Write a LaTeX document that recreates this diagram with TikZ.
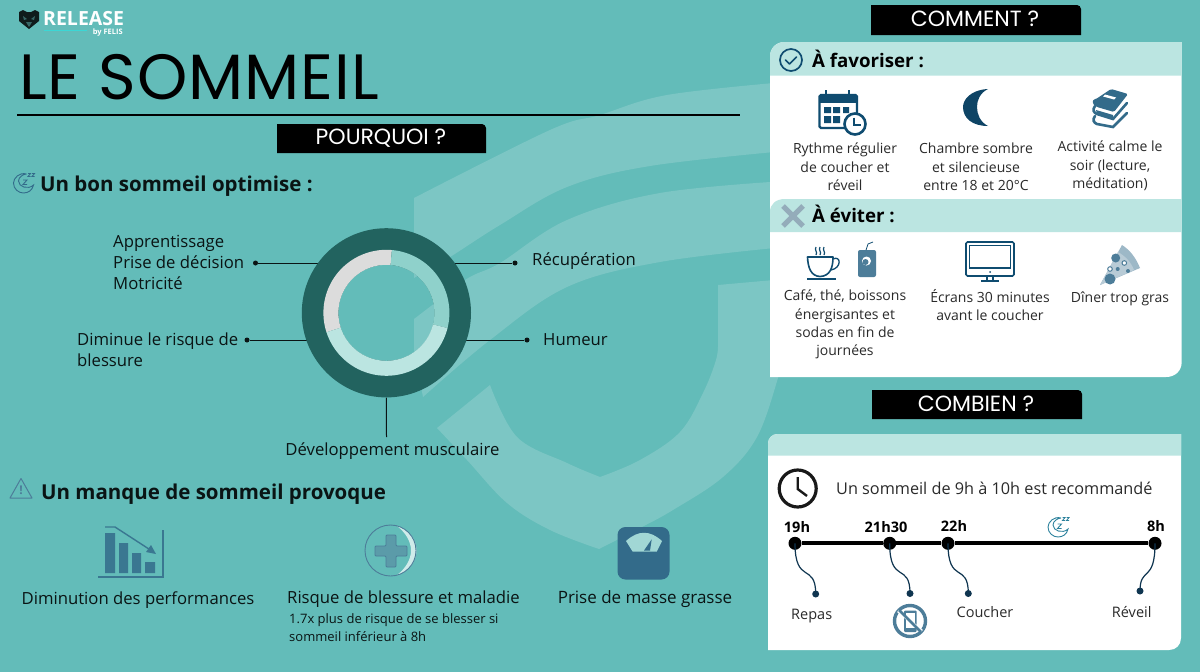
\documentclass[tikz,border=0pt]{standalone}
\usepackage{fontspec}
\setmainfont{Open Sans}
\newfontfamily\titlef{Poppins}
\definecolor{bgc}{HTML}{63BCB9}
\definecolor{wmc}{HTML}{7CC6C4}
\definecolor{ringd}{HTML}{22635F}
\definecolor{ringg}{HTML}{DCDCDC}
\definecolor{ringm}{HTML}{8FD1CB}
\definecolor{hdrc}{HTML}{BBE5E1}
\definecolor{navy}{HTML}{0F4C70}
\definecolor{icoc}{HTML}{336B8A}
\definecolor{icol}{HTML}{4D7D99}
\definecolor{inkc}{HTML}{0A1414}
\definecolor{greyt}{HTML}{2A2A2A}
\definecolor{darkl}{HTML}{0F3550}
\newcommand{\fs}[2]{\fontsize{#1}{#2}\selectfont}
\newcommand{\moonz}[3]{\begin{scope}[shift={(#1,#2)},draw=#3,line width=.9pt,fill=none]
 \draw (3,-9) .. controls (-4,-11) and (-10,-5) .. (-10,0) .. controls (-10,6) and (-5,10) .. (0,10) .. controls (5,10) and (9,7) .. (10,2) .. controls (5,7) and (-5,4) .. (-5,-2) .. controls (-5,-6) and (0,-9) .. (3,-9);
 \draw (-.5,-3) -- (3.5,-3) -- (-.5,1.5) -- (3.5,1.5);
 \draw (4.5,-9.5) -- (7,-9.5) -- (4.5,-6.5) -- (7,-6.5);
 \draw (8.5,-9.5) -- (11,-9.5) -- (8.5,-6.5) -- (11,-6.5);
\end{scope}}
\tikzset{
 x=1pt,y=-1pt,
 tx/.style={inner sep=0pt,text=inkc,font=\fs{16.7}{21}},
 lab/.style={tx,anchor=mid west},
 head/.style={tx,anchor=mid west,font=\fs{20.5}{26}\bfseries},
 sub/.style={inner sep=0pt,text=greyt,font=\fs{14}{18.3},align=center},
 tabt/.style={inner sep=0pt,text=white,font=\fs{22}{24}\titlef},
 bul/.style={circle,fill=inkc,inner sep=0pt,minimum size=5pt},
 lead/.style={draw=inkc,line width=1pt},
 tdot/.style={circle,fill=black,inner sep=0pt,minimum size=13pt},
 edot/.style={circle,fill=darkl,inner sep=0pt,minimum size=7pt},
 tlab/.style={inner sep=0pt,text=black,font=\fs{14.5}{18}\bfseries},
 wave/.style={draw=darkl,line width=1.2pt},
}
\begin{document}
\begin{tikzpicture}
\useasboundingbox (0,0) rectangle (1200,672);
\fill[bgc] (0,0) rectangle (1200,672);
% watermark
\fill[wmc] (414,198) -- plot[smooth,tension=.6] coordinates {(414,198) (550,130) (600,115) (667,95) (785,82)}
  -- (785,152) -- plot[smooth,tension=.6] coordinates {(785,151) (650,166) (567,187) (500,225) (450,257) (414,278)} -- cycle;
\fill[wmc] (414,319) -- plot[smooth,tension=.6] coordinates {(414,319) (465,280) (500,263) (567,220) (660,193) (785,181)}
  -- (785,247) -- plot[smooth,tension=.6] coordinates {(785,247) (660,262) (567,287) (490,340) (423,397)} -- (414,352) -- cycle;
\fill[wmc] (490,385) -- plot[smooth,tension=.6] coordinates {(490,385) (517,437) (567,463) (600,477)}
  -- plot[smooth,tension=.6] coordinates {(600,477) (640,460) (680,432) (703,393) (716,360) (718,343)}
  -- (718,285) -- (785,279) -- (785,340)
  -- plot[smooth,tension=.6] coordinates {(780,365) (778,378) (757,437) (723,477) (673,510) (640,528) (599,549)}
  -- plot[smooth,tension=.6] coordinates {(599,549) (550,530) (507,503) (467,460) (437,428)} -- cycle;
% logo
\fill[black!85!bgc] (19,12) -- (23,10) -- (27,12) -- (31,12) -- (35,10) -- (39,12) -- (39,21) -- (29,29) -- (19,21) -- cycle;
\fill[black!45!bgc] (23,16) -- (27,19) -- (24,20) -- cycle (35,16) -- (31,19) -- (34,20) -- cycle (26,22) -- (32,22) -- (29,27) -- cycle;
\node[inner sep=0pt,anchor=mid west,text=white,font=\fs{19.5}{22}\bfseries] (logot) at (43,22.5) {RELEASE};
\node[inner sep=0pt,anchor=east,text=white,font=\fs{7.5}{8}\bfseries] (logob) at (123,33) {by FELIS};
\draw[draw=bgc!60!cyan,line width=1pt] (44,30) -- (87,30);
% title
\node[inner sep=0pt,anchor=mid west,text=black,font=\fs{64}{68}\titlef\addfontfeature{LetterSpace=1.5}] (title) at (19,96.5) {LE SOMMEIL};
\draw[black,line width=1.6pt] (17,115) -- (740,115);
% tabs
\fill[black] (277,153) -- (277,124) -- (482,124) .. controls (484,124) and (486,126) .. (486,128) -- (486,153) -- cycle;
\node[tabt] (tabp) at (381,138.5) {POURQUOI ?};
\fill[black] (871,35) -- (871,5) -- (1077,5) .. controls (1079,5) and (1081,7) .. (1081,9) -- (1081,35) -- cycle;
\node[tabt] (tabc) at (975,19) {COMMENT ?};
\fill[black] (872,419) -- (872,390) -- (1078,390) .. controls (1080,390) and (1082,392) .. (1082,394) -- (1082,419) -- cycle;
\node[tabt] (tabb) at (976,403.5) {COMBIEN ?};
% left headings
\moonz{23.5}{183}{icoc}
\node[head] (h1) at (40,189) {Un bon sommeil optimise :};
\draw[icol,line width=1pt,line join=round] (21,478.5) -- (32,498) -- (10,498) -- cycle;
\node[inner sep=0pt,text=icol,font=\fs{12}{12}\bfseries] (warn) at (21,490.5) {!};
\node[head] (h2) at (41,497) {Un manque de sommeil provoque};
% ring labels and leaders
\node[circle,inner sep=0pt,minimum size=169.2pt] (ring) at (386.4,312.8) {};
\node[bul] (d1) at (255.5,263) {};
\node[bul] (d2) at (515,263) {};
\node[bul] (d3) at (247,340) {};
\node[bul] (d4) at (527,340) {};
\coordinate (d5) at (386.5,437);
\draw[lead] (d1) -- (d1 -| ring.center);
\draw[lead] (d2) -- (d2 -| ring.center);
\draw[lead] (d3) -- (d3 -| ring.center);
\draw[lead] (d4) -- (d4 -| ring.center);
\draw[lead] (ring.south) -- (d5);
% ring
\fill[ringd] (ring.center) circle (84.6);
\fill[bgc] (ring.center) circle (48);
\begin{scope}
\clip (386.4,312.8) circle (48);
\fill[wmc] (414,250) -- (414,278) -- (450,257) -- (450,250) -- cycle;
\fill[wmc] (414,319) -- (465,280) -- (465,370) -- (414,352) -- cycle;
\end{scope}
\fill[ringg] plot[domain=162:275,samples=40] ({386.4+63*cos(\x)},{312.8+63*sin(\x)}) -- plot[domain=275:162,samples=40] ({386.4+48*cos(\x)},{312.8+48*sin(\x)}) -- cycle;
\fill[ringm] plot[domain=-85:14,samples=40] ({386.4+63*cos(\x)},{312.8+63*sin(\x)}) -- plot[domain=14:-85,samples=40] ({386.4+48*cos(\x)},{312.8+48*sin(\x)}) -- cycle;
\fill[hdrc] plot[domain=14:162,samples=40] ({386.4+63*cos(\x)},{312.8+63*sin(\x)}) -- plot[domain=162:14,samples=40] ({386.4+48*cos(\x)},{312.8+48*sin(\x)}) -- cycle;
\node[tx,anchor=west,align=left] (l1) at (113,262) {Apprentissage\\Prise de décision\\Motricité};
\node[lab] (l2) at (532,263) {Récupération};
\node[lab] (l3) at (543,343) {Humeur};
\node[tx,anchor=west,align=left] (l4) at (77,350) {Diminue le risque de\\blessure};
\node[tx,anchor=mid] (l5) at (392.5,453) {Développement musculaire};
% bottom left icons
\fill[icoc!85!bgc] (105,533) rectangle (115,573) (119,543) rectangle (128,573) (132,553) rectangle (141,573) (145,562) rectangle (155,573);
\draw[icoc!85!bgc,line width=1.6pt] (98,577) -- (163,577) -- (163,530);
\draw[icoc!85!bgc,line width=1.4pt] (105,527) -- (115,527) -- (152,551);
\fill[icoc!85!bgc] (156,554) -- (146,552) -- (151,545) -- cycle;
\fill[white!70!bgc] (397,526) .. controls (409,529) and (416.5,540) .. (416.5,550.5) .. controls (416.5,561) and (409,572) .. (397,575) .. controls (405,569) and (411,560) .. (411,550.5) .. controls (411,541) and (405,532) .. (397,526) -- cycle;
\draw[icol,line width=.9pt] (390.5,550.5) circle (25.5);
\fill[icoc!55!bgc!90!white,draw=icol,line width=.9pt,rounded corners=1pt] (386,535) -- (396,535) -- (396,546) -- (407,546) -- (407,556) -- (396,556) -- (396,567) -- (386,567) -- (386,556) -- (375,556) -- (375,546) -- (386,546) -- cycle;
\fill[icoc,rounded corners=8pt] (617.5,527) rectangle (669.5,579.5);
\fill[bgc!60!white] (626,541) .. controls (638,530) and (650,530) .. (662,541) -- (656.7,551.7) -- (632.7,551.7) -- cycle;
\fill[icoc] (644,550.5) -- (651.7,539.3) -- (650,550.5) -- cycle;
\node[tx,anchor=mid] (b1) at (138,602) {Diminution des performances};
\node[tx,anchor=mid west] (b2) at (287,600.5) {Risque de blessure et maladie};
\node[tx,anchor=north west,align=left,font=\fs{13}{18}] (b2s) at (289,613.5) {1.7x plus de risque de se blesser si\\sommeil inférieur à 8h};
\node[tx,anchor=mid,font=\fs{17}{21}] (b3) at (645,601) {Prise de masse grasse};
% panel 1
\fill[white] (770,57) .. controls (770,48) and (776,42) .. (785,42) -- (1181.7,42) -- (1181.7,362) .. controls (1181.7,371) and (1175,377) .. (1166,377) -- (770,377) -- cycle;
\fill[hdrc] (770,75.5) -- (770,57) .. controls (770,48) and (776,42) .. (785,42) -- (1181.7,42) -- (1181.7,75.5) -- cycle;
\fill[hdrc] (770,232) -- (770,212) .. controls (770,204) and (776,199) .. (785,199) -- (1181.7,199) -- (1181.7,232) -- cycle;
\draw[navy,line width=1.7pt] (791,60) circle (11);
\draw[navy,line width=1.6pt,line cap=round,line join=round] (785.5,60) -- (789.5,64) -- (796.5,57);
\draw[icol!50!ringg,line width=5pt] (783,206) -- (803,226) (803,206) -- (783,226);
\node[inner sep=0pt,anchor=mid west,text=black,font=\fs{18.7}{24}\bfseries] (fav) at (812,65) {À favoriser :};
\node[inner sep=0pt,anchor=mid west,text=black,font=\fs{18.7}{24}\bfseries] (evi) at (812,220) {À éviter :};
% calendar
\begin{scope}
\fill[navy] (820,95) rectangle (856,103);
\draw[navy,line width=2.4pt,rounded corners=1.5pt] (819.5,95) rectangle (857,128);
\draw[navy,line width=2pt] (826,90) -- (826,98) (849,90) -- (849,98);
\fill[navy] (824,107) rectangle (831,113) (833,107) rectangle (840,113) (843,107) rectangle (849,113) (824,116) rectangle (831,123) (833,116) rectangle (840,123);
\draw[navy,line width=2.6pt,fill=white] (855,124) circle (10.5);
\draw[navy,line width=1.8pt] (854,117.5) -- (854,125) -- (861,125);
\end{scope}
\fill[navy!90!black] (988,89) .. controls (970,90) and (963,100) .. (963,107) .. controls (963,118) and (972,126) .. (988,126) .. controls (980,122) and (977,114) .. (977,107) .. controls (977,100) and (980,93) .. (988,89) -- cycle;
% books
\fill[icoc,rounded corners=1.5pt] (1111,89) -- (1128,94) -- (1114,112) -- (1097,107) .. controls (1092,104) and (1092,100) .. (1096,99) -- cycle;
\fill[white] (1105,94.5) -- (1116,97.5) -- (1114,99.5) -- (1103,96.5) -- cycle;
\draw[icoc,line width=2.6pt,line cap=round] (1095,106) .. controls (1092,110) and (1094,113) .. (1097,114) -- (1113,119) -- (1127,103);
\draw[icoc,line width=2.6pt,line cap=round] (1095,116) .. controls (1092,120) and (1094,123) .. (1097,124) -- (1113,127) -- (1127,113);
\fill[icoc] (1096,110) -- (1113,115) -- (1113,119) -- (1097,114) -- cycle;
\node[sub] (s1) at (845,167) {Rythme régulier\\de coucher et\\réveil};
\node[sub] (s2) at (976,167) {Chambre sombre\\et silencieuse\\entre 18 et 20°C};
\node[sub] (s3) at (1110,166) {Activité calme le\\soir (lecture,\\méditation)};
% coffee and can
\draw[navy,line width=1.6pt,line join=round] (807.5,257) -- (833,257) .. controls (833,268) and (830,276) .. (820,276.5) .. controls (811,276) and (808,268) .. (807.5,257) -- cycle;
\draw[navy,line width=1.3pt] (833,259) .. controls (841,255) and (842,268) .. (831,270);
\draw[navy,line width=1.3pt] (807,279) -- (836,279);
\draw[navy,line width=1.2pt] (816,247) .. controls (814,250) and (818,252) .. (816,255) (820,247) .. controls (818,250) and (822,252) .. (820,255) (824,247) .. controls (822,250) and (826,252) .. (824,255);
\fill[icol,rounded corners=2pt] (858,250) rectangle (876,277);
\draw[navy,line width=.8pt] (866,250) -- (868,244) -- (873,242);
\fill[white] (866.5,261) circle (4.5);
\fill[icol] (865.5,262) circle (3);
% monitor
\draw[navy,line width=1.6pt,rounded corners=1.5pt] (966,242) rectangle (1014,276);
\draw[navy,line width=1.2pt] (969.5,245.5) rectangle (1010.5,268);
\fill[navy] (990,272) circle (1);
\draw[navy,line width=1.2pt] (987,276) -- (987,281) (993,276) -- (993,281) (981,281) -- (999,281);
% pizza
\fill[icol!55!white] (1100,285) -- (1122,245) .. controls (1130,250) and (1136,258) .. (1140,268) -- cycle;
\fill[icol!40!white] (1100,285) -- (1118,252) .. controls (1125,256) and (1131,262) .. (1134,270) -- cycle;
\fill[icol] (1115.7,258) circle (4.5) (1110,279) circle (5.5) (1117.7,269) circle (2) (1128,271) circle (2);
\draw[icol,line width=1pt,fill=white] (1110,269) circle (2.3) (1124.3,263) circle (2.3);
\node[sub] (s4) at (845,324.5) {Café, thé, boissons\\énergisantes et\\sodas en fin de\\journées};
\node[sub] (s5) at (990,305) {Écrans 30 minutes\\avant le coucher};
\node[sub] (s6) at (1120,299) {Dîner trop gras};
% panel 2
\fill[white] (768,444) .. controls (768,438) and (772,434) .. (778,434) -- (1181,434) -- (1181,638) .. controls (1181,645) and (1176,650) .. (1169,650) -- (768,650) -- cycle;
\fill[hdrc] (768,455.5) -- (768,444) .. controls (768,438) and (772,434) .. (778,434) -- (1181,434) -- (1181,455.5) -- cycle;
\draw[black!90,line width=3.2pt] (797.7,488.5) circle (18.5);
\draw[black!90,line width=2.4pt] (797.7,477) -- (797.7,489) -- (807,496);
\node[inner sep=0pt,anchor=mid west,text=greyt,font=\fs{16.25}{20}] (rec) at (836,492) {Un sommeil de 9h à 10h est recommandé};
\node[tdot] (t1) at (795,543.3) {};
\node[tdot] (t2) at (889.7,543.3) {};
\node[tdot] (t3) at (948,543.3) {};
\node[tdot] (t4) at (1155,543.3) {};
\draw[black,line width=4pt] (t1) -- (t2) -- (t3) -- (t4);
\node[edot] (e1) at (815.7,594) {};
\node[edot] (e2) at (910,593.5) {};
\node[edot] (e3) at (968.3,593.5) {};
\node[edot] (e4) at (1140,591) {};
\draw[wave] (t1.center) .. controls +(0,42) and +(0,-32) .. (e1.center);
\draw[wave] (t2.center) .. controls +(0,42) and +(0,-32) .. (e2.center);
\draw[wave] (t3.center) .. controls +(0,42) and +(0,-32) .. (e3.center);
\draw[wave] (t4.center) .. controls +(0,40) and +(0,-25) .. (e4.center);
\node[tlab] (h19) at (797,527) {19h};
\node[tlab] (h21) at (886,527) {21h30};
\node[tlab] (h22) at (954,526) {22h};
\node[tlab] (h8) at (1156,526) {8h};
\moonz{1058}{527}{icoc!85!cyan}
\node[sub,font=\fs{14.5}{18}] (r1) at (811.7,616.5) {Repas};
\node[sub,font=\fs{14.5}{18}] (r2) at (985,612) {Coucher};
\node[sub,font=\fs{14.5}{18}] (r3) at (1131.7,612) {Réveil};
\draw[icol,line width=3.4pt] (910,621) circle (15.5);
\fill[icol,rounded corners=1pt] (904,610.5) rectangle (916.5,632);
\fill[white] (905.5,613) rectangle (915,628);
\draw[white,line width=2.8pt] (898,611) -- (922,631);
\draw[icol,line width=2.6pt] (899,610) -- (921,632);
\end{tikzpicture}
\end{document}
